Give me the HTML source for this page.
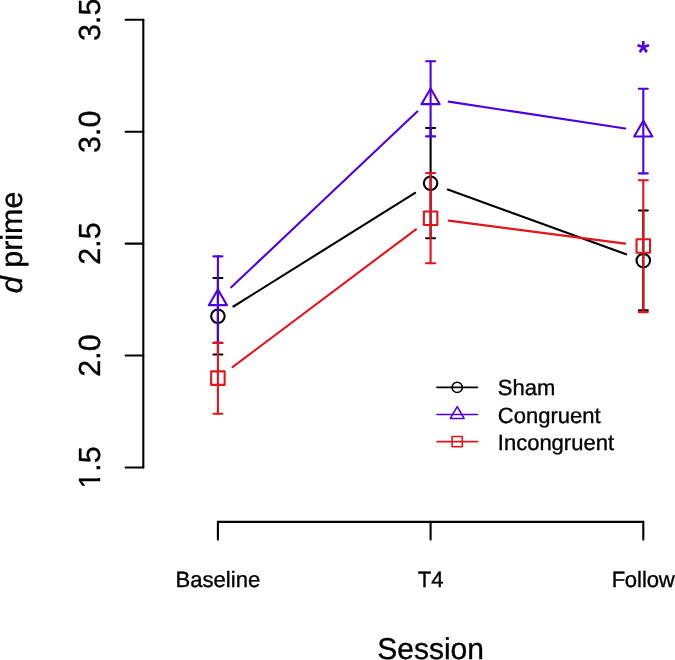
<!DOCTYPE html>
<html><head><meta charset="utf-8"><style>
html,body{margin:0;padding:0;background:#fff;}
body{width:675px;height:660px;overflow:hidden;}
svg{display:block;will-change:transform;font-family:"Liberation Sans",sans-serif;text-rendering:geometricPrecision;}
text{stroke:#000;stroke-width:0.35px;}
line{stroke-linecap:round;}
</style></head><body>
<svg width="675" height="660" viewBox="0 0 675 660">
<line x1="143.30" y1="19.80" x2="143.30" y2="467.50" stroke="#000" stroke-width="2.1"/>
<line x1="125.60" y1="19.80" x2="143.30" y2="19.80" stroke="#000" stroke-width="2.1"/>
<line x1="125.60" y1="131.70" x2="143.30" y2="131.70" stroke="#000" stroke-width="2.1"/>
<line x1="125.60" y1="243.60" x2="143.30" y2="243.60" stroke="#000" stroke-width="2.1"/>
<line x1="125.60" y1="355.50" x2="143.30" y2="355.50" stroke="#000" stroke-width="2.1"/>
<line x1="125.60" y1="467.50" x2="143.30" y2="467.50" stroke="#000" stroke-width="2.1"/>
<line x1="217.90" y1="521.90" x2="643.30" y2="521.90" stroke="#000" stroke-width="2.1"/>
<line x1="217.90" y1="521.90" x2="217.90" y2="539.60" stroke="#000" stroke-width="2.1"/>
<line x1="430.60" y1="521.90" x2="430.60" y2="539.60" stroke="#000" stroke-width="2.1"/>
<line x1="643.30" y1="521.90" x2="643.30" y2="539.60" stroke="#000" stroke-width="2.1"/>
<line x1="233.42" y1="306.50" x2="415.08" y2="192.90" stroke="#000" stroke-width="2.1"/>
<line x1="447.80" y1="189.46" x2="626.10" y2="254.34" stroke="#000" stroke-width="2.1"/>
<line x1="217.90" y1="278.00" x2="217.90" y2="354.50" stroke="#000" stroke-width="2.1"/>
<line x1="213.40" y1="278.00" x2="222.40" y2="278.00" stroke="#000" stroke-width="2.1"/>
<line x1="213.40" y1="354.50" x2="222.40" y2="354.50" stroke="#000" stroke-width="2.1"/>
<line x1="430.60" y1="128.00" x2="430.60" y2="238.30" stroke="#000" stroke-width="2.1"/>
<line x1="426.10" y1="128.00" x2="435.10" y2="128.00" stroke="#000" stroke-width="2.1"/>
<line x1="426.10" y1="238.30" x2="435.10" y2="238.30" stroke="#000" stroke-width="2.1"/>
<line x1="643.30" y1="210.50" x2="643.30" y2="310.40" stroke="#000" stroke-width="2.1"/>
<line x1="638.80" y1="210.50" x2="647.80" y2="210.50" stroke="#000" stroke-width="2.1"/>
<line x1="638.80" y1="310.40" x2="647.80" y2="310.40" stroke="#000" stroke-width="2.1"/>
<circle cx="217.90" cy="316.20" r="6.75" fill="none" stroke="#000" stroke-width="2.1"/>
<circle cx="430.60" cy="183.20" r="6.75" fill="none" stroke="#000" stroke-width="2.1"/>
<circle cx="643.30" cy="260.60" r="6.75" fill="none" stroke="#000" stroke-width="2.1"/>
<line x1="231.20" y1="287.33" x2="417.30" y2="111.47" stroke="#4E00E2" stroke-width="2.1"/>
<line x1="448.69" y1="101.65" x2="625.21" y2="128.45" stroke="#4E00E2" stroke-width="2.1"/>
<line x1="217.90" y1="256.40" x2="217.90" y2="342.90" stroke="#4E00E2" stroke-width="2.1"/>
<line x1="213.40" y1="256.40" x2="222.40" y2="256.40" stroke="#4E00E2" stroke-width="2.1"/>
<line x1="213.40" y1="342.90" x2="222.40" y2="342.90" stroke="#4E00E2" stroke-width="2.1"/>
<line x1="430.60" y1="61.20" x2="430.60" y2="136.40" stroke="#4E00E2" stroke-width="2.1"/>
<line x1="426.10" y1="61.20" x2="435.10" y2="61.20" stroke="#4E00E2" stroke-width="2.1"/>
<line x1="426.10" y1="136.40" x2="435.10" y2="136.40" stroke="#4E00E2" stroke-width="2.1"/>
<line x1="643.30" y1="88.70" x2="643.30" y2="173.40" stroke="#4E00E2" stroke-width="2.1"/>
<line x1="638.80" y1="88.70" x2="647.80" y2="88.70" stroke="#4E00E2" stroke-width="2.1"/>
<line x1="638.80" y1="173.40" x2="647.80" y2="173.40" stroke="#4E00E2" stroke-width="2.1"/>
<polygon points="217.90,289.40 226.99,305.15 208.81,305.15" fill="none" stroke="#4E00E2" stroke-width="2.1" stroke-linejoin="round"/>
<polygon points="430.60,88.40 439.69,104.15 421.51,104.15" fill="none" stroke="#4E00E2" stroke-width="2.1" stroke-linejoin="round"/>
<polygon points="643.30,120.70 652.39,136.45 634.21,136.45" fill="none" stroke="#4E00E2" stroke-width="2.1" stroke-linejoin="round"/>
<line x1="232.53" y1="367.11" x2="415.97" y2="229.29" stroke="#E3141C" stroke-width="2.1"/>
<line x1="448.75" y1="220.66" x2="625.15" y2="243.64" stroke="#E3141C" stroke-width="2.1"/>
<line x1="217.90" y1="342.90" x2="217.90" y2="413.80" stroke="#E3141C" stroke-width="2.1"/>
<line x1="213.40" y1="342.90" x2="222.40" y2="342.90" stroke="#E3141C" stroke-width="2.1"/>
<line x1="213.40" y1="413.80" x2="222.40" y2="413.80" stroke="#E3141C" stroke-width="2.1"/>
<line x1="430.60" y1="173.00" x2="430.60" y2="263.20" stroke="#E3141C" stroke-width="2.1"/>
<line x1="426.10" y1="173.00" x2="435.10" y2="173.00" stroke="#E3141C" stroke-width="2.1"/>
<line x1="426.10" y1="263.20" x2="435.10" y2="263.20" stroke="#E3141C" stroke-width="2.1"/>
<line x1="643.30" y1="180.20" x2="643.30" y2="312.10" stroke="#E3141C" stroke-width="2.1"/>
<line x1="638.80" y1="180.20" x2="647.80" y2="180.20" stroke="#E3141C" stroke-width="2.1"/>
<line x1="638.80" y1="312.10" x2="647.80" y2="312.10" stroke="#E3141C" stroke-width="2.1"/>
<rect x="211.15" y="371.35" width="13.50" height="13.50" fill="none" stroke="#E3141C" stroke-width="2.1" stroke-linejoin="round"/>
<rect x="423.85" y="211.55" width="13.50" height="13.50" fill="none" stroke="#E3141C" stroke-width="2.1" stroke-linejoin="round"/>
<rect x="636.55" y="239.25" width="13.50" height="13.50" fill="none" stroke="#E3141C" stroke-width="2.1" stroke-linejoin="round"/>
<line x1="437.00" y1="387.40" x2="477.40" y2="387.40" stroke="#000" stroke-width="1.6"/>
<circle cx="457.20" cy="387.40" r="5.10" fill="none" stroke="#000" stroke-width="1.6"/>
<line x1="437.00" y1="414.50" x2="477.40" y2="414.50" stroke="#4E00E2" stroke-width="1.6"/>
<polygon points="457.20,406.57 464.07,418.47 450.33,418.47" fill="none" stroke="#4E00E2" stroke-width="1.6" stroke-linejoin="round"/>
<line x1="437.00" y1="441.60" x2="477.40" y2="441.60" stroke="#E3141C" stroke-width="1.6"/>
<rect x="452.10" y="436.50" width="10.20" height="10.20" fill="none" stroke="#E3141C" stroke-width="1.6" stroke-linejoin="round"/>
<text transform="translate(100.2,19.80) rotate(-90)" text-anchor="middle" font-size="30.5">3.5</text>
<text transform="translate(100.2,131.70) rotate(-90)" text-anchor="middle" font-size="30.5">3.0</text>
<text transform="translate(100.2,243.60) rotate(-90)" text-anchor="middle" font-size="30.5">2.5</text>
<text transform="translate(100.2,355.50) rotate(-90)" text-anchor="middle" font-size="30.5">2.0</text>
<text transform="translate(100.2,467.50) rotate(-90)" text-anchor="middle" font-size="30.5">1.5</text>
<text transform="translate(21.8,242.4) rotate(-90)" text-anchor="middle" font-size="30.5"><tspan font-style="italic">d</tspan> prime</text>
<text x="217.90" y="586.8" text-anchor="middle" font-size="22.1">Baseline</text>
<text x="430.60" y="586.8" text-anchor="middle" font-size="22.1">T4</text>
<text x="643.30" y="586.8" text-anchor="middle" font-size="22.1">F<tspan dx="-0.66">o</tspan>llo<tspan dx="-0.33">w</tspan></text>
<text x="430.6" y="659.1" text-anchor="middle" font-size="30.0">Session</text>
<text x="497.8" y="395.4" font-size="22.0">Sham</text>
<text x="497.8" y="422.7" font-size="22.0">Congruent</text>
<text x="497.8" y="449.6" font-size="22.0">Incongruent</text>
<path transform="translate(636.25,67.97) scale(0.037,-0.037)" fill="#4E00E2" d="M357 579 335 649 226 613V729H154V613L45 649L23 580L132 544L65 450L123 407L190 501L257 407L315 450L248 544Z"/>
<rect x="96.9" y="472.3" width="5.6" height="5.8" fill="#fff"/>
<rect x="96.9" y="481.3" width="5.6" height="6.0" fill="#fff"/>
</svg>
</body></html>
